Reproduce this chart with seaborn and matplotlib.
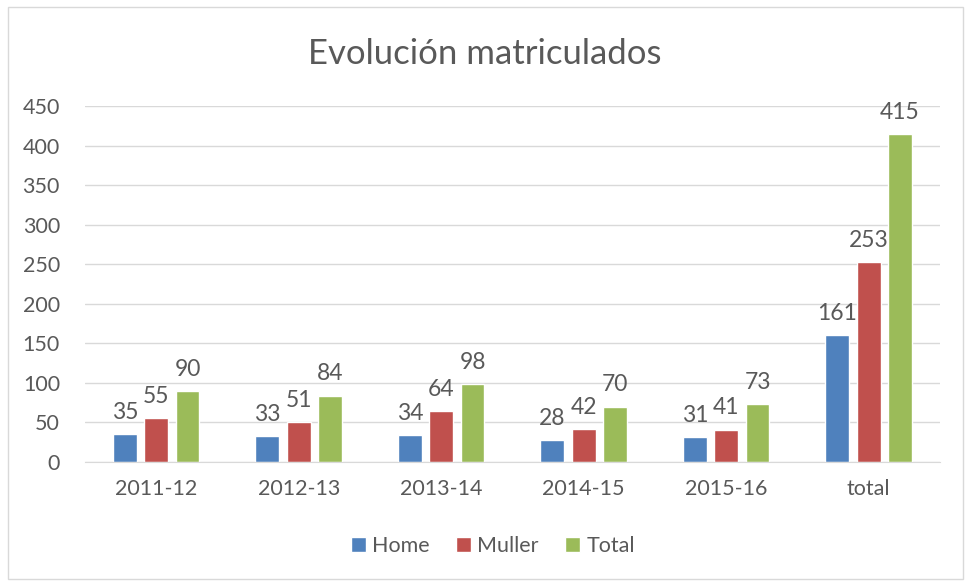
import pandas as pd
import seaborn as sns
import matplotlib.pyplot as plt
from matplotlib.patches import Rectangle

# values
years = ['2011-12', '2012-13', '2013-14', '2014-15', '2015-16', 'total']
home = [35, 33, 34, 28, 31, 161]
muller = [55, 51, 64, 42, 41, 253]
total = [90, 84, 98, 70, 73, 415]
series = ['Home', 'Muller', 'Total']
colors = ['#4F81BD', '#C0504D', '#9BBB59']

df = pd.DataFrame({'Curso': years, 'Home': home, 'Muller': muller, 'Total': total})
df = df.melt(id_vars='Curso', var_name='Serie', value_name='Valor')

sns.set_style('white')
plt.rcParams['font.family'] = ['Lato', 'DejaVu Sans']
text_color = '#595959'

fig = plt.figure(figsize=(9.7, 5.85), dpi=100)
ax = fig.add_axes([0.0876, 0.2103, 0.8814, 0.6085])

sns.barplot(data=df, x='Curso', y='Valor', hue='Serie', hue_order=series,
            palette=colors, width=0.66, gap=0.24, ax=ax, legend=True,
            saturation=1)

for cont in ax.containers:
    ax.bar_label(cont, padding=8, fontsize=16.5, color=text_color)

ax.set_ylim(0, 450)
ax.set_yticks(range(0, 451, 50))
ax.set_xlim(-0.5, 5.5)
ax.yaxis.grid(True, color='#D9D9D9', linewidth=1)
ax.set_axisbelow(True)
for side in ['top', 'right', 'left']:
    ax.spines[side].set_visible(False)
ax.spines['bottom'].set_color('#D9D9D9')
ax.tick_params(axis='both', length=0, labelsize=15.5, colors=text_color)
ax.tick_params(axis='x', pad=12)
ax.tick_params(axis='y', pad=18)
ax.set_xlabel('')
ax.set_ylabel('')

fig.suptitle('Evolución matriculados', y=0.935, fontsize=25, color=text_color)

leg = ax.legend(loc='center', bbox_to_anchor=(0.477, -0.235), ncol=3, frameon=False,
                fontsize=15.5, handlelength=0.7, handleheight=0.7, handletextpad=0.3,
                columnspacing=1.2)
for t in leg.get_texts():
    t.set_color(text_color)

fig.patches.append(Rectangle((0.008, 0.01), 0.985, 0.978, transform=fig.transFigure,
                             fill=False, edgecolor='#D9D9D9', linewidth=1))

fig.savefig('out.png', dpi=100)
